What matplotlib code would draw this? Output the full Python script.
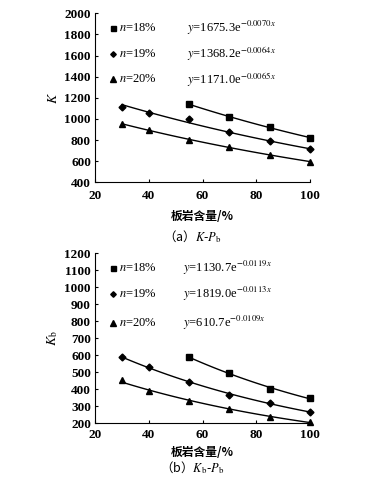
import numpy as np
import matplotlib
matplotlib.use("Agg")
import matplotlib.pyplot as plt

plt.rcParams['font.family'] = ['Liberation Serif', 'Noto Sans CJK SC']
plt.rcParams['mathtext.fontset'] = 'stix'

# ---- data (a) K - Pb
x18 = [55, 70, 85, 100]
x_all = [30, 40, 55, 70, 85, 100]
K18 = [1138, 1021, 920, 822]
K19 = [1116, 1059, 996, 873, 788, 712]
K20 = [955, 892, 803, 731, 661, 595]
eqA = ["1675.3e$^{-0.0070x}$", "1368.2e$^{-0.0064x}$", "1171.0e$^{-0.0065x}$"]

# ---- data (b) Kb - Pb
Kb18 = [588, 498, 404, 347]
Kb19 = [590, 533, 441, 368, 318, 268]
Kb20 = [455, 390, 331, 282, 238, 209]
eqB = ["1130.7e$^{-0.0119x}$", "1819.0e$^{-0.0113x}$", "610.7e$^{-0.0109x}$"]

labels = ["$n$=18%", "$n$=19%", "$n$=20%"]
markers = ['s', 'D', '^']
msizes = [4.5, 3.5, 5]

fig = plt.figure(figsize=(3.85, 4.87), dpi=100)
axA = fig.add_axes([0.247, 0.6257, 0.558, 0.347])
axB = fig.add_axes([0.247, 0.1308, 0.558, 0.349])

def draw(ax, series, eqs, ylim, yticks, ylabel, rows, eqx, xpad, xlpad):
    for (xs, ys), m, ms in zip(series, markers, msizes):
        xs = np.array(xs, float); ys = np.array(ys, float)
        b, a = np.polyfit(xs, np.log(ys), 1)
        xx = np.linspace(xs.min(), xs.max(), 100)
        ax.plot(xx, np.exp(a) * np.exp(b * xx), color='black', lw=1.0, clip_on=False)
        ax.plot(xs, ys, linestyle='none', marker=m, ms=ms, color='black', clip_on=False)
    ax.set_xlim(20, 100)
    ax.set_ylim(*ylim)
    ax.set_xticks([20, 40, 60, 80, 100])
    ax.set_yticks(yticks)
    for s in ['top', 'right']:
        ax.spines[s].set_visible(False)
    for s in ['left', 'bottom']:
        ax.spines[s].set_linewidth(0.8)
    ax.tick_params(direction='in', length=2.5, width=0.8, labelsize=9.5, pad=3)
    ax.tick_params(axis='x', pad=xpad)
    for t in ax.get_xticklabels() + ax.get_yticklabels():
        t.set_fontweight('bold')
    ax.set_ylabel(ylabel, fontsize=10)
    ax.yaxis.set_label_coords(-0.165, 0.5)
    for ry, m, ms, lab, eq in zip(rows, markers, msizes, labels, eqs):
        ax.plot([0.085], [ry], marker=m, ms=ms * 0.8, color='black', transform=ax.transAxes, clip_on=False)
        ax.text(0.11, ry, lab, transform=ax.transAxes, fontsize=9, va='center', ha='left')
        ax.text(eqx, ry, "$y$=" + eq, transform=ax.transAxes, fontsize=9, va='center', ha='left')
    ax.set_xlabel("板岩含量/%", fontsize=8.5, fontweight='bold', labelpad=xlpad,
                  family=['Noto Sans CJK SC'])

draw(axA, [(x18, K18), (x_all, K19), (x_all, K20)], eqA, (400, 2000),
     range(400, 2001, 200), "$K$", [0.915, 0.76, 0.61], 0.43, 5.5, 6)
draw(axB, [(x18, Kb18), (x_all, Kb19), (x_all, Kb20)], eqB, (200, 1200),
     range(200, 1201, 100), "$K_{\\rm b}$", [0.915, 0.76, 0.59], 0.41, 4, 4)

fig.text(0.5, 1 - 237 / 487, "（a）$K$-$P_{\\rm b}$", ha='center', va='center', fontsize=9,
         family=['Noto Sans CJK SC', 'DejaVu Sans'])
fig.text(0.5, 1 - 468 / 487, "（b）$K_{\\rm b}$-$P_{\\rm b}$", ha='center', va='center', fontsize=9,
         family=['Noto Sans CJK SC', 'DejaVu Sans'])

fig.savefig("out.png", dpi=100)
